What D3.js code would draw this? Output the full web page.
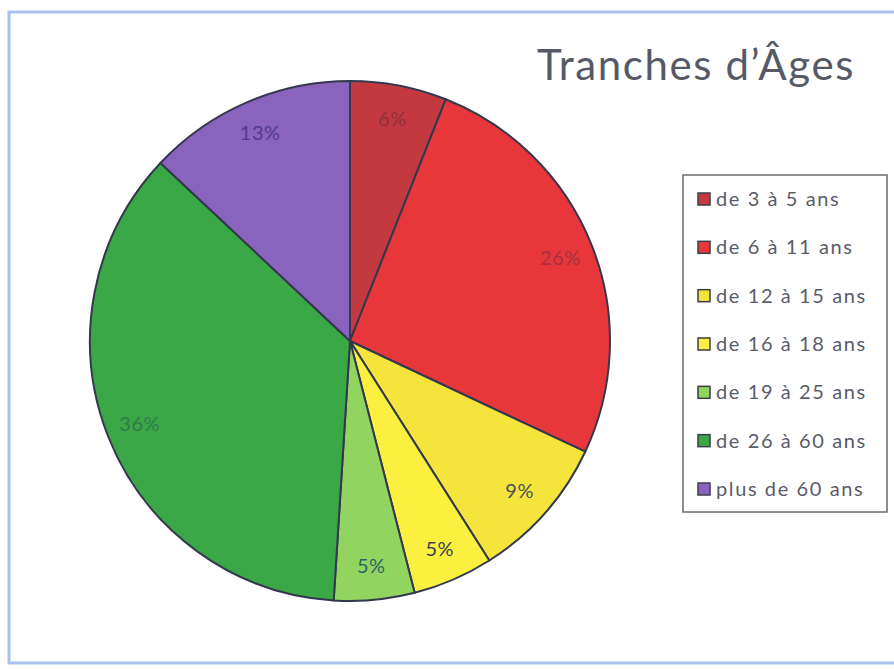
<!DOCTYPE html>
<html>
<head>
<meta charset="utf-8">
<script src="https://cdn.jsdelivr.net/npm/d3@7"></script>
<style>
  body { margin: 0; background: #fff; }
  svg { display: block; }
</style>
</head>
<body>
<svg id="chart" width="894" height="669"></svg>
<script>
// data
const categories = ["de 3 à 5 ans", "de 6 à 11 ans", "de 12 à 15 ans", "de 16 à 18 ans",
                    "de 19 à 25 ans", "de 26 à 60 ans", "plus de 60 ans"];
const shares = [6, 26, 9, 5, 5, 36, 13];
const sliceColors = ["#c4393f", "#e8373b", "#f4e43c", "#fbf040", "#92d460", "#3ba848", "#8963be"];
const labelColors = ["#8e3040", "#a83040", "#4e505c", "#3e4052", "#2a6660", "#2f7a4a", "#563a88"];

const svg = d3.select("#chart");
const font = "Lato, 'Open Sans', sans-serif";

// light blue frame
svg.append("rect")
    .attr("x", 9).attr("y", 12)
    .attr("width", 900).attr("height", 651)
    .attr("fill", "none")
    .attr("stroke", "#a9c1ec")
    .attr("stroke-width", 3);

// title
svg.append("text")
    .attr("x", 855).attr("y", 80)
    .attr("text-anchor", "end")
    .attr("font-family", font)
    .attr("font-size", 42)
    .attr("letter-spacing", 1.6)
    .attr("fill", "#555a66")
    .text("Tranches d’Âges");

const cx = 350, cy = 341, R = 260;

const pie = d3.pie().sort(null).value(d => d);
const arcs = pie(shares);
const arc = d3.arc().innerRadius(0).outerRadius(R);
const labelArc = d3.arc().innerRadius(R * 0.87).outerRadius(R * 0.87);

const g = svg.append("g").attr("transform", "translate(" + cx + "," + cy + ")");

g.selectAll("path")
    .data(arcs)
    .enter().append("path")
    .attr("d", arc)
    .attr("fill", (d, i) => sliceColors[i])
    .attr("stroke", "#34384f")
    .attr("stroke-width", 2)
    .attr("stroke-linejoin", "round");

g.selectAll("text.lbl")
    .data(arcs)
    .enter().append("text")
    .attr("class", "lbl")
    .attr("transform", d => "translate(" + labelArc.centroid(d) + ")")
    .attr("text-anchor", "middle")
    .attr("dy", "0.35em")
    .attr("font-family", font)
    .attr("font-size", 20)
    .attr("letter-spacing", 0.5)
    .attr("fill", (d, i) => labelColors[i])
    .text(d => d.data + "%");

// legend
const legend = svg.append("g").attr("transform", "translate(683,175)");
legend.append("rect")
    .attr("width", 204).attr("height", 337)
    .attr("fill", "#fff")
    .attr("stroke", "#6a6a6a")
    .attr("stroke-width", 1.5);

const y = d3.scalePoint().domain(categories).range([24, 314]);

const item = legend.selectAll("g.item")
    .data(categories)
    .enter().append("g")
    .attr("class", "item")
    .attr("transform", d => "translate(0," + y(d) + ")");

item.append("rect")
    .attr("x", 15).attr("y", -6)
    .attr("width", 12).attr("height", 12)
    .attr("fill", (d, i) => sliceColors[i])
    .attr("stroke", "#3c3c4a")
    .attr("stroke-width", 1.5);

item.append("text")
    .attr("x", 33)
    .attr("dy", "0.35em")
    .attr("font-family", font)
    .attr("font-size", 20)
    .attr("letter-spacing", 1.6)
    .attr("fill", "#5a5c6a")
    .text(d => d);
</script>
</body>
</html>
